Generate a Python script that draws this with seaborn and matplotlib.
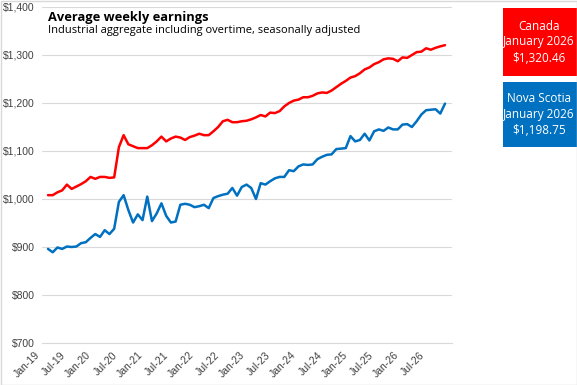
import numpy as np
import pandas as pd
import matplotlib
matplotlib.use("Agg")
import matplotlib.pyplot as plt
import matplotlib.transforms as mtransforms
import seaborn as sns
from matplotlib.patches import Rectangle

# Monthly average weekly earnings, Jan-2019 to Jan-2026
canada = [1008, 1008, 1014, 1018, 1030, 1021, 1026, 1031, 1037, 1046, 1042, 1046,
          1046, 1044, 1045, 1108, 1133, 1114, 1110, 1106, 1106, 1106, 1112, 1120,
          1130, 1120, 1126, 1130, 1128, 1123, 1129, 1132, 1136, 1133, 1133, 1141,
          1150, 1162, 1165, 1160, 1160, 1162, 1163, 1166, 1170, 1175, 1172, 1180,
          1179, 1183, 1193, 1200, 1205, 1207, 1212, 1212, 1215, 1220, 1222, 1221,
          1226, 1233, 1240, 1246, 1253, 1256, 1262, 1270, 1274, 1281, 1285, 1291,
          1293, 1292, 1287, 1295, 1294, 1300, 1306, 1307, 1314, 1311, 1315, 1318,
          1320.46]
nova_scotia = [896, 889, 899, 896, 901, 900, 901, 908, 910, 919, 927, 921,
               935, 927, 938, 994, 1008, 977, 951, 968, 956, 1005, 954, 970,
               991, 965, 951, 953, 988, 990, 988, 983, 985, 988, 981, 1002,
               1006, 1009, 1011, 1023, 1007, 1025, 1030, 1023, 1000, 1033, 1030, 1037,
               1043, 1046, 1046, 1060, 1058, 1068, 1072, 1071, 1072, 1083, 1088, 1092,
               1093, 1104, 1105, 1106, 1131, 1120, 1123, 1136, 1122, 1141, 1145, 1142,
               1149, 1145, 1145, 1155, 1156, 1150, 1162, 1176, 1185, 1186, 1187, 1178,
               1198.75]
tick_labels = ['Jan-19', 'Jul-19', 'Jan-20', 'Jul-20', 'Jan-21', 'Jul-21', 'Jan-22', 'Jul-22',
               'Jan-23', 'Jul-23', 'Jan-24', 'Jul-24', 'Jan-25', 'Jul-25', 'Jan-26', 'Jul-26', '']
y_ticks = [700, 800, 900, 1000, 1100, 1200, 1300, 1400]

months = np.arange(len(canada))
df = pd.DataFrame({'month': months, 'Canada': canada, 'Nova Scotia': nova_scotia})

red = '#FF0000'
blue = '#0070C0'

sns.set_style('white')
plt.rcParams['font.family'] = ['Liberation Sans', 'DejaVu Sans']

fig = plt.figure(figsize=(5.77, 3.85), dpi=100)
ax = fig.add_axes([42 / 577, 1 - 343 / 385, 410 / 577, 336 / 385])

sns.lineplot(data=df, x='month', y='Canada', color=red, linewidth=1.8, ax=ax)
sns.lineplot(data=df, x='month', y='Nova Scotia', color=blue, linewidth=1.8, ax=ax)

xlim = (-1.27, 85.48)
ax.set_xlim(xlim)
ax.set_ylim(700, 1400)
ax.set_xticks(np.linspace(xlim[0], xlim[1], len(tick_labels)))
ax.set_xticklabels(tick_labels, rotation=45, ha='right', fontsize=7.5, color='#404040')
shift = mtransforms.ScaledTranslation(5 / 100, 0, fig.dpi_scale_trans)
for lab in ax.get_xticklabels():
    lab.set_transform(lab.get_transform() + shift)
ax.set_yticks(y_ticks)
ax.set_yticklabels(['${:,}'.format(v) for v in y_ticks], fontsize=7.5, color='#404040')
ax.tick_params(axis='y', length=0, pad=5)
ax.tick_params(axis='x', length=3, width=0.8, color='#D9D9D9', direction='out', pad=2)
ax.grid(axis='y', color='#D9D9D9', linewidth=0.8)
ax.set_xlabel('')
ax.set_ylabel('')
for s in ['left', 'right', 'top']:
    ax.spines[s].set_visible(False)
ax.spines['bottom'].set_color('#D9D9D9')
ax.spines['bottom'].set_linewidth(0.8)

# title block
fig.text(48 / 577, 1 - 17 / 385, 'Average weekly earnings', fontsize=9.3, fontweight='bold',
         family=['Open Sans', 'DejaVu Sans'], va='center', ha='left', color='#000000')
fig.text(48 / 577, 1 - 31 / 385, 'Industrial aggregate including overtime, seasonally adjusted',
         fontsize=8, family=['Open Sans', 'DejaVu Sans'], va='center', ha='left', color='#000000')

# end-value boxes
boxes = [
    ('Canada', canada[-1], red, 8, 76),
    ('Nova Scotia', nova_scotia[-1], blue, 82, 147),
]
for name, val, col, y0, y1 in boxes:
    fig.patches.append(Rectangle((503 / 577, 1 - y1 / 385), 74 / 577, (y1 - y0) / 385,
                                 transform=fig.transFigure, facecolor=col, edgecolor='none'))
    fig.text(539 / 577, 1 - (y0 + y1) / 2 / 385,
             f'{name}\nJanuary 2026\n${val:,.2f}', ha='center', va='center',
             color='white', fontsize=8.5, linespacing=1.3, family=['Open Sans', 'DejaVu Sans'])

# light frame around the chart
fig.patches.append(Rectangle((0.5 / 577, 0.5 / 385), 576 / 577, 384 / 385, transform=fig.transFigure,
                             facecolor='none', edgecolor='#D9D9D9', linewidth=1))

fig.savefig('out.png', dpi=100)
